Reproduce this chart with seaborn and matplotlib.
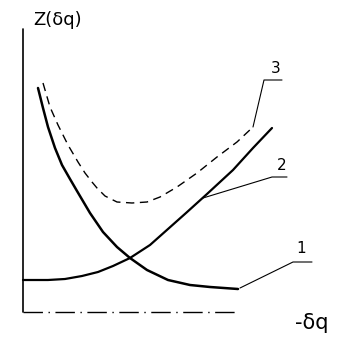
import matplotlib
matplotlib.use("Agg")
import matplotlib.pyplot as plt
import seaborn as sns

# curve data (x = δq, y = Z)
c1_x = [15, 20, 25, 32, 39, 47, 54, 67, 80, 94, 107, 124, 145, 167, 187, 215]
c1_y = [224, 204, 185, 164, 147, 133, 121, 99, 80, 65, 54, 42, 32, 27, 25, 23]
c2_x = [0, 25, 42, 59, 75, 90, 107, 127, 145, 163, 184, 210, 230, 249]
c2_y = [32, 32, 33, 36, 40, 46, 54, 67, 83, 99, 118, 142, 164, 184]
c3_x = [20, 27, 35, 45, 55, 62, 69, 74, 82, 94, 109, 124, 137, 154, 174, 194, 214, 230]
c3_y = [229, 205, 187, 167, 150, 139, 130, 124, 116, 110, 109, 110, 115, 125, 139, 155, 170, 185]

# leader lines and labels
lead1_x = [217, 270, 289]
lead1_y = [24, 50, 50]
lead2_x = [180, 249, 264]
lead2_y = [114, 135, 135]
lead3_x = [230, 241, 259]
lead3_y = [185, 232, 232]
labels = ["1", "2", "3"]
label_x = [278, 259, 253]
label_y = [56, 139, 236]

sns.set_theme(style="white")
plt.rcParams['font.family'] = ['DejaVu Sans']

fig = plt.figure(figsize=(3.5, 3.38), dpi=100)
ax = fig.add_axes([0, 0, 1, 1])
ax.set_xlim(-23, 327)
ax.set_ylim(-26, 312)
ax.axis("off")

kw = dict(ax=ax, color="black", sort=False)
sns.lineplot(x=c1_x, y=c1_y, lw=1.8, solid_joinstyle="round", **kw)
sns.lineplot(x=c2_x, y=c2_y, lw=1.6, solid_joinstyle="round", **kw)
sns.lineplot(x=c3_x, y=c3_y, lw=1.0, linestyle=(0, (6, 4)), **kw)
for lx, ly in [(lead1_x, lead1_y), (lead2_x, lead2_y), (lead3_x, lead3_y)]:
    sns.lineplot(x=lx, y=ly, lw=0.8, **kw)
for t, x, y in zip(labels, label_x, label_y):
    ax.text(x, y, t, fontsize=11, ha="center", va="bottom", color="black")

# axes
ax.plot([0, 0], [0, 283], color="black", lw=1.2)
ax.plot([0, 212], [0, 0], color="black", lw=1.0, linestyle=(0, (14, 4, 1, 4)))
ax.text(10, 292, "Z(δq)", fontsize=13, ha="left", va="center", color="black")
ax.text(272, -11, "-δq", fontsize=15, ha="left", va="center", color="black")

fig.savefig("out.png", dpi=100)
